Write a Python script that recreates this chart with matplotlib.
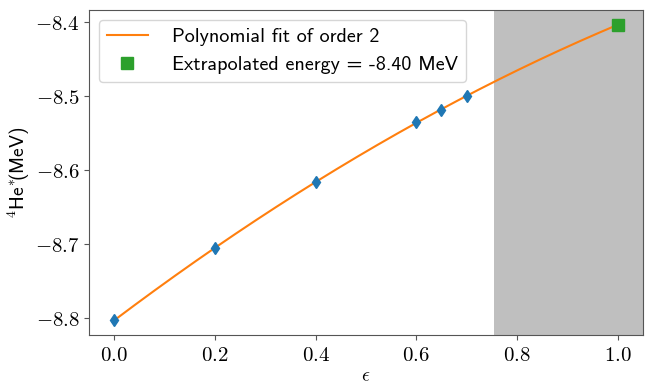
import numpy as np
import matplotlib
matplotlib.use("Agg")
import matplotlib.pyplot as plt
from matplotlib.ticker import FuncFormatter

# data
eps = [0.0, 0.2, 0.4, 0.6, 0.65, 0.7]
energy = [-8.8023, -8.7054, -8.6160, -8.5344, -8.5192, -8.4998]
eps_target = 1.0
shade_start = 0.755

plt.rcParams['mathtext.fontset'] = 'cm'
plt.rcParams['axes.unicode_minus'] = True

# quadratic fit and extrapolation
coef = np.polyfit(eps, energy, 2)
xfit = np.linspace(min(eps), eps_target, 200)
yfit = np.polyval(coef, xfit)
e_extrap = np.polyval(coef, eps_target)

fig, ax = plt.subplots(figsize=(6.46, 3.86), dpi=100)
fig.subplots_adjust(left=0.138, right=0.995, top=0.974, bottom=0.132)

ax.plot(eps, energy, 'd', color='C0', markersize=6.5, zorder=3)
ax.plot(xfit, yfit, '-', color='C1', linewidth=1.5,
        label='Polynomial fit of order 2')
ax.plot([eps_target], [e_extrap], 's', color='C2', markersize=9,
        label='Extrapolated energy = %.2f MeV' % e_extrap, zorder=4)

ax.set_xticks([0.0, 0.2, 0.4, 0.6, 0.8, 1.0])
ax.set_yticks([-8.8, -8.7, -8.6, -8.5, -8.4])
fmt = FuncFormatter(lambda v, p: r'$%.1f$' % v)
ax.xaxis.set_major_formatter(fmt)
ax.yaxis.set_major_formatter(fmt)
ax.tick_params(labelsize=15, color='#555555')
ax.set_xlim(-0.05, 1.05)
ax.axvspan(shade_start, 1.05, color='#bfbfbf', zorder=0, lw=0)

for s in ax.spines.values():
    s.set_color('#555555')

ax.set_xlabel(r'$\epsilon$', fontsize=14, labelpad=1)
ax.set_ylabel(r'$^4$He$^{*}\!$(MeV)', fontsize=14, family='cmss10', labelpad=2)

leg = ax.legend(loc='upper left', prop={'family': 'cmss10', 'size': 14.5},
                fancybox=True, framealpha=0.8, handletextpad=1.2)

plt.savefig('out.png', dpi=100)
